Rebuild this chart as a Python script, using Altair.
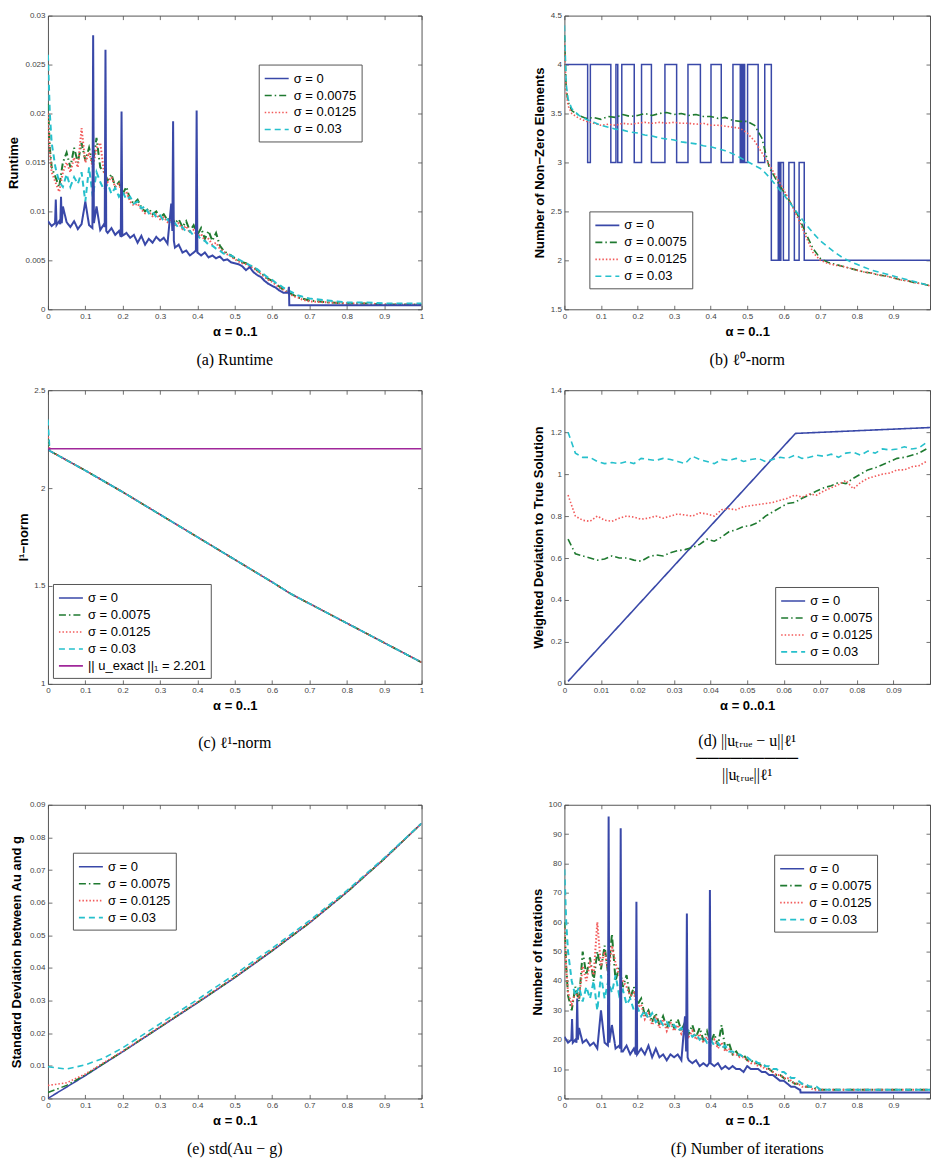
import altair as alt
import pandas as pd

# ---------------------------------------------------------------- series setup
SIGMAS = ["σ = 0", "σ = 0.0075", "σ = 0.0125", "σ = 0.03"]
SERIES_COLORS = ["#3948a8", "#1f7a30", "#f25a5a", "#26c0cc"]
SERIES_DASHES = [[1, 0], [7, 3, 1.5, 3], [1.5, 2], [6, 4]]
EXACT_L1 = 2.201
EXACT_LABEL = "|| u_exact ||₁ = 2.201"
EXACT_COLOR = "#a0279a"

# ---------------------------------------------------------------- tick labels
TICKS_UNIT = [0, 0.1, 0.2, 0.3, 0.4, 0.5, 0.6, 0.7, 0.8, 0.9, 1]
TICKS_TENTH = [0, 0.01, 0.02, 0.03, 0.04, 0.05, 0.06, 0.07, 0.08, 0.09, 0.1]
TICKS_RUNTIME = [0, 0.005, 0.01, 0.015, 0.02, 0.025, 0.03]
TICKS_NNZ = [1.5, 2, 2.5, 3, 3.5, 4, 4.5]
TICKS_L1 = [1, 1.5, 2, 2.5]
TICKS_DEV = [0, 0.2, 0.4, 0.6, 0.8, 1, 1.2, 1.4]
TICKS_STD = [0, 0.01, 0.02, 0.03, 0.04, 0.05, 0.06, 0.07, 0.08, 0.09]
TICKS_ITER = [0, 10, 20, 30, 40, 50, 60, 70, 80, 90, 100]

# ---------------------------------------------------------------- sampling grids
ALPHA_FINE = [0, 0.005] + [round(0.01 * i, 2) for i in range(1, 71)] + [0.75, 0.8, 0.85, 0.9, 0.95, 1.0]
ALPHA_COARSE = [0, 0.005, 0.01] + [round(0.02 * i, 2) for i in range(1, 51)]
ALPHA_DEV = [round(0.001 + 0.002 * i, 3) for i in range(50)]

# noise-free run, sampled around its outliers
ALPHA_SIG0 = [0, 0.01, 0.019, 0.021, 0.023, 0.03, 0.033, 0.035, 0.037, 0.04,
              0.05, 0.06, 0.07, 0.08, 0.09, 0.1, 0.11, 0.119, 0.121, 0.123,
              0.13, 0.14, 0.15, 0.152, 0.154, 0.156, 0.16, 0.17, 0.18, 0.19,
              0.195, 0.197, 0.199, 0.21, 0.22, 0.23, 0.24, 0.25, 0.26, 0.27,
              0.28, 0.29, 0.30, 0.31, 0.32, 0.33, 0.333, 0.335, 0.337, 0.34,
              0.35, 0.36, 0.37, 0.38, 0.39, 0.396, 0.398, 0.400, 0.41, 0.42,
              0.43, 0.44, 0.45, 0.46, 0.47, 0.48, 0.49, 0.50, 0.51, 0.52,
              0.53, 0.54, 0.55, 0.56, 0.57, 0.58, 0.59, 0.60, 0.61, 0.62,
              0.63, 0.643, 0.645, 0.646, 0.70, 0.80, 0.90, 1.00]

# ---------------------------------------------------------------- (a) runtime
RUNTIME_S0 = [0.0090, 0.0085, 0.0088, 0.0112, 0.0086, 0.0090, 0.0087, 0.0115, 0.0088, 0.0105,
              0.0089, 0.0084, 0.0090, 0.0082, 0.0087, 0.0110, 0.0086, 0.0083, 0.0280, 0.0088,
              0.0105, 0.0081, 0.0087, 0.0084, 0.0265, 0.0080, 0.0078, 0.0083, 0.0076, 0.0080,
              0.0074, 0.0202, 0.0075, 0.0078, 0.0073, 0.0076, 0.0068, 0.0075, 0.0066, 0.0072,
              0.0068, 0.0074, 0.0070, 0.0073, 0.0067, 0.0108, 0.0080, 0.0192, 0.0070, 0.0063,
              0.0066, 0.0058, 0.0060, 0.0055, 0.0058, 0.0060, 0.0203, 0.0058, 0.0055, 0.0058,
              0.0053, 0.0055, 0.0052, 0.0054, 0.0050, 0.0051, 0.0048, 0.0047, 0.0046, 0.0044,
              0.0040, 0.0043, 0.0038, 0.0035, 0.0033, 0.0029, 0.0026, 0.0024, 0.0022, 0.0019,
              0.0017, 0.0017, 0.0023, 0.0004, 0.0004, 0.0004, 0.0004, 0.0004]
RUNTIME_S1 = [0.0210, 0.0165, 0.0145, 0.0135, 0.0125, 0.0150, 0.0160, 0.0145, 0.0165, 0.0150,
              0.0170, 0.0152, 0.0165, 0.0148, 0.0175, 0.0145, 0.0140, 0.0132, 0.0138, 0.0125,
              0.0130, 0.0118, 0.0125, 0.0112, 0.0108, 0.0112, 0.0104, 0.0100, 0.0103, 0.0097,
              0.0100, 0.0094, 0.0097, 0.0091, 0.0095, 0.0088, 0.0092, 0.0084, 0.0090, 0.0080,
              0.0086, 0.0076, 0.0083, 0.0072, 0.0080, 0.0070, 0.0078, 0.0065, 0.0060, 0.0057,
              0.0055, 0.0052, 0.0050, 0.0048, 0.0047, 0.0045, 0.0043, 0.0040, 0.0037, 0.0034,
              0.0031, 0.0029, 0.0026, 0.0023, 0.0020, 0.0018, 0.0016, 0.0014, 0.0012, 0.0011,
              0.0010, 0.0009, 0.0007, 0.0006, 0.0006, 0.0005, 0.0005, 0.0005]
RUNTIME_S2 = [0.0200, 0.0160, 0.0140, 0.0130, 0.0120, 0.0140, 0.0150, 0.0140, 0.0155, 0.0145,
              0.0185, 0.0150, 0.0160, 0.0145, 0.0165, 0.0170, 0.0140, 0.0130, 0.0135, 0.0125,
              0.0128, 0.0117, 0.0120, 0.0110, 0.0106, 0.0108, 0.0102, 0.0098, 0.0100, 0.0095,
              0.0097, 0.0092, 0.0094, 0.0089, 0.0091, 0.0086, 0.0088, 0.0082, 0.0085, 0.0078,
              0.0081, 0.0074, 0.0077, 0.0070, 0.0072, 0.0066, 0.0068, 0.0062, 0.0059, 0.0056,
              0.0054, 0.0051, 0.0049, 0.0047, 0.0046, 0.0044, 0.0042, 0.0039, 0.0036, 0.0033,
              0.0030, 0.0028, 0.0025, 0.0022, 0.0020, 0.0017, 0.0015, 0.0013, 0.0012, 0.0010,
              0.0009, 0.0008, 0.0007, 0.0006, 0.0006, 0.0005, 0.0005, 0.0005]
RUNTIME_S3 = [0.0260, 0.0200, 0.0170, 0.0145, 0.0130, 0.0125, 0.0138, 0.0125, 0.0135, 0.0128,
              0.0140, 0.0110, 0.0145, 0.0115, 0.0140, 0.0130, 0.0122, 0.0128, 0.0118, 0.0124,
              0.0115, 0.0120, 0.0112, 0.0115, 0.0108, 0.0110, 0.0103, 0.0105, 0.0098, 0.0100,
              0.0094, 0.0096, 0.0090, 0.0092, 0.0087, 0.0088, 0.0083, 0.0084, 0.0079, 0.0080,
              0.0075, 0.0076, 0.0071, 0.0070, 0.0066, 0.0065, 0.0062, 0.0060, 0.0057, 0.0056,
              0.0055, 0.0053, 0.0051, 0.0049, 0.0047, 0.0045, 0.0043, 0.0041, 0.0038, 0.0035,
              0.0032, 0.0030, 0.0027, 0.0025, 0.0022, 0.0020, 0.0018, 0.0016, 0.0014, 0.0013,
              0.0012, 0.0011, 0.0009, 0.0007, 0.0007, 0.0006, 0.0006, 0.0006]

# ---------------------------------------------------------------- (b) number of non-zeros
STEP_ALPHA = [0, 0.0636, 0.071, 0.127, 0.141, 0.146, 0.157, 0.191, 0.211, 0.238,
              0.275, 0.307, 0.338, 0.372, 0.401, 0.429, 0.461, 0.481, 0.484, 0.487,
              0.490, 0.493, 0.501, 0.530, 0.548, 0.566, 0.585, 0.589, 0.592, 0.599,
              0.614, 0.629, 0.642, 0.656, 1.0]
STEP_NNZ = [4, 3, 4, 3, 4, 3, 4, 3, 4, 3,
            4, 3, 4, 3, 4, 3, 4, 3, 4, 3,
            4, 3, 4, 3, 4, 2, 3, 2, 3, 2,
            3, 2, 3, 2, 2]
NNZ_S1 = [4.30, 3.75, 3.62, 3.53, 3.48, 3.45, 3.46, 3.44, 3.47, 3.46,
          3.49, 3.47, 3.48, 3.50, 3.48, 3.50, 3.51, 3.49, 3.50, 3.48,
          3.49, 3.47, 3.47, 3.45, 3.46, 3.43, 3.42, 3.42, 3.38, 3.25,
          2.95, 2.82, 2.70, 2.58, 2.45, 2.28, 2.12, 2.02, 1.98, 1.96,
          1.94, 1.92, 1.90, 1.88, 1.87, 1.85, 1.84, 1.82, 1.80, 1.79,
          1.77, 1.76, 1.74]
NNZ_S2 = [4.25, 3.72, 3.58, 3.50, 3.45, 3.42, 3.40, 3.38, 3.39, 3.38,
          3.40, 3.39, 3.40, 3.41, 3.40, 3.41, 3.40, 3.41, 3.40, 3.40,
          3.39, 3.40, 3.38, 3.38, 3.37, 3.36, 3.35, 3.30, 3.22, 3.10,
          2.98, 2.85, 2.72, 2.58, 2.42, 2.25, 2.08, 2.00, 1.97, 1.95,
          1.94, 1.92, 1.90, 1.88, 1.87, 1.85, 1.84, 1.82, 1.80, 1.79,
          1.77, 1.76, 1.74]
NNZ_S3 = [4.40, 3.80, 3.65, 3.55, 3.48, 3.44, 3.41, 3.38, 3.36, 3.34,
          3.33, 3.31, 3.30, 3.28, 3.27, 3.25, 3.24, 3.23, 3.21, 3.20,
          3.19, 3.17, 3.16, 3.14, 3.12, 3.09, 3.05, 3.01, 2.97, 2.93,
          2.85, 2.76, 2.67, 2.57, 2.47, 2.37, 2.28, 2.20, 2.14, 2.08,
          2.03, 1.99, 1.96, 1.93, 1.90, 1.88, 1.86, 1.84, 1.82, 1.80,
          1.78, 1.76, 1.74]

# ---------------------------------------------------------------- (c) l1-norm
L1_ALPHA = [0, 0.005, 0.1, 0.2, 0.3, 0.4, 0.5, 0.6, 0.65, 0.7, 0.8, 0.9, 1.0]
L1_S0 = [2.20, 2.19, 2.09, 1.98, 1.865, 1.75, 1.635, 1.52, 1.46, 1.41, 1.31, 1.21, 1.11]
L1_S1 = [2.25, 2.19, 2.09, 1.98, 1.865, 1.75, 1.635, 1.52, 1.46, 1.41, 1.31, 1.21, 1.11]
L1_S2 = [2.28, 2.19, 2.09, 1.98, 1.865, 1.75, 1.635, 1.52, 1.46, 1.41, 1.31, 1.21, 1.11]
L1_S3 = [2.35, 2.19, 2.09, 1.98, 1.865, 1.75, 1.635, 1.52, 1.46, 1.41, 1.31, 1.21, 1.11]
EXACT_ALPHA = [0, 1]

# ---------------------------------------------------------------- (d) weighted deviation
DEV_S0_ALPHA = [0.001, 0.0632, 0.1]
DEV_S0 = [0.012, 1.194, 1.222]
DEV_S1 = [0.69, 0.62, 0.61, 0.60, 0.59, 0.595, 0.61, 0.60, 0.60, 0.59,
          0.585, 0.605, 0.615, 0.61, 0.625, 0.635, 0.64, 0.65, 0.665, 0.69,
          0.68, 0.70, 0.725, 0.735, 0.75, 0.755, 0.77, 0.80, 0.82, 0.84,
          0.86, 0.865, 0.885, 0.90, 0.92, 0.935, 0.945, 0.96, 0.955, 0.98,
          1.00, 1.02, 1.03, 1.045, 1.06, 1.075, 1.08, 1.09, 1.10, 1.12]
DEV_S2 = [0.90, 0.80, 0.78, 0.775, 0.80, 0.78, 0.775, 0.79, 0.80, 0.795,
          0.785, 0.79, 0.80, 0.79, 0.80, 0.81, 0.805, 0.80, 0.815, 0.81,
          0.80, 0.83, 0.835, 0.83, 0.845, 0.85, 0.855, 0.86, 0.865, 0.875,
          0.885, 0.90, 0.89, 0.905, 0.90, 0.92, 0.935, 0.95, 0.97, 0.93,
          0.96, 0.98, 0.99, 1.00, 1.005, 1.02, 1.02, 1.035, 1.04, 1.06]
DEV_S3 = [1.20, 1.10, 1.08, 1.08, 1.06, 1.05, 1.055, 1.05, 1.06, 1.05,
          1.075, 1.07, 1.065, 1.075, 1.07, 1.06, 1.05, 1.085, 1.07, 1.06,
          1.05, 1.07, 1.065, 1.075, 1.06, 1.07, 1.075, 1.06, 1.07, 1.08,
          1.075, 1.09, 1.075, 1.08, 1.09, 1.085, 1.095, 1.08, 1.10, 1.105,
          1.09, 1.11, 1.10, 1.12, 1.115, 1.12, 1.13, 1.12, 1.125, 1.15]

# ---------------------------------------------------------------- (e) std(Au - g)
STD_ALPHA = [0, 0.05, 0.1, 0.15, 0.2, 0.3, 0.4, 0.5, 0.6, 0.7, 0.8, 0.9, 1.0]
STD_S0 = [0.0000, 0.0035, 0.0070, 0.0107, 0.0143, 0.0218, 0.0293, 0.0370, 0.0452, 0.0538, 0.0632, 0.0734, 0.0843]
STD_S1 = [0.0018, 0.0040, 0.0072, 0.0108, 0.0144, 0.0219, 0.0294, 0.0371, 0.0453, 0.0538, 0.0632, 0.0734, 0.0843]
STD_S2 = [0.0040, 0.0048, 0.0075, 0.0110, 0.0145, 0.0220, 0.0295, 0.0372, 0.0454, 0.0539, 0.0633, 0.0734, 0.0843]
STD_S3 = [0.0097, 0.0090, 0.0103, 0.0124, 0.0155, 0.0229, 0.0303, 0.0380, 0.0460, 0.0545, 0.0637, 0.0737, 0.0843]

# ---------------------------------------------------------------- (f) iterations
ITERS_S0 = [21, 19, 20, 27, 19, 20, 19, 34, 20, 24,
            19, 20, 18, 19, 17, 30, 19, 18, 96, 19,
            25, 17, 18, 17, 92, 16, 16, 18, 15, 17,
            15, 67, 15, 17, 15, 18, 14, 17, 14, 15,
            13, 15, 14, 15, 13, 28, 16, 63, 14, 13,
            12, 13, 11, 12, 11, 12, 71, 12, 11, 12,
            10, 11, 10, 11, 10, 10, 9, 11, 10, 10,
            10, 9, 9, 8, 8, 7, 6, 6, 5, 4,
            4, 3, 3, 2, 2, 2, 2, 2]
ITERS_S1 = [60, 45, 35, 30, 38, 33, 50, 42, 48, 40,
            50, 44, 52, 42, 56, 40, 45, 38, 42, 34,
            38, 32, 34, 28, 30, 26, 29, 25, 28, 24,
            27, 24, 27, 23, 26, 22, 25, 21, 24, 20,
            23, 19, 22, 18, 25, 17, 19, 15, 16, 14,
            15, 13, 13, 12, 12, 11, 11, 10, 9, 8,
            8, 7, 6, 6, 5, 5, 5, 4, 4, 4,
            3, 3, 3, 3, 3, 3, 3, 3]
ITERS_S2 = [58, 44, 36, 32, 36, 34, 45, 40, 46, 42,
            60, 45, 50, 43, 52, 46, 42, 40, 38, 35,
            36, 31, 32, 27, 29, 25, 28, 24, 27, 23,
            26, 23, 25, 22, 24, 21, 23, 20, 22, 19,
            21, 18, 20, 17, 19, 16, 17, 15, 15, 14,
            14, 13, 12, 12, 11, 11, 10, 10, 9, 8,
            8, 7, 7, 6, 5, 5, 4, 4, 4, 3,
            3, 3, 3, 3, 3, 3, 3, 3]
ITERS_S3 = [78, 60, 50, 40, 35, 38, 33, 38, 34, 40,
            30, 42, 34, 40, 36, 42, 35, 37, 32, 34,
            30, 31, 28, 30, 27, 29, 26, 27, 25, 26,
            24, 25, 23, 24, 22, 23, 21, 22, 20, 21,
            19, 20, 18, 19, 17, 18, 16, 16, 15, 15,
            14, 14, 13, 13, 12, 12, 11, 11, 10, 10,
            9, 9, 8, 7, 7, 6, 5, 5, 4, 4,
            4, 3, 3, 3, 3, 3, 3, 3]

AXIS_FONT = "Liberation Sans"
CAPTION_FONT = "Liberation Serif"
TICK_COLOR = "#4d4d4d"


def long_table(parts):
    rows = []
    for name, xs, ys in parts:
        assert len(xs) == len(ys), (name, len(xs), len(ys))
        rows += [{"alpha": x, "value": y, "series": name} for x, y in zip(xs, ys)]
    return pd.DataFrame(rows)


def make_panel(parts, *, xdom, ydom, xticks, yticks, xtitle, ytitle, ytitle_pad,
               caption, caption_offset, legend_xy, width, height, step_part=None,
               label_cut=None, yformat="~g", line_width=1.6,
               names=SIGMAS, colors=SERIES_COLORS, dashes=SERIES_DASHES):
    xscale = alt.Scale(domain=xdom, nice=False, zero=False)
    yscale = alt.Scale(domain=ydom, nice=False, zero=False)
    legend = alt.Legend(
        orient="none", legendX=legend_xy[0], legendY=legend_xy[1], title=None,
        symbolType="M-1.5,0H1.5", symbolSize=256, symbolStrokeWidth=1.6,
        symbolOffset=4, labelOffset=8, labelFont=AXIS_FONT, labelFontSize=13,
        labelColor="black", labelLimit=300, rowPadding=1, padding=5,
        strokeColor="#555555", fillColor="white", cornerRadius=0,
    )
    color = alt.Color("series:N", scale=alt.Scale(domain=names, range=colors), legend=legend)
    dash = alt.StrokeDash("series:N", scale=alt.Scale(domain=names, range=dashes), legend=legend)

    tick_style = dict(offset=-4, tickSize=4, tickColor=TICK_COLOR, tickWidth=0.8,
                      domain=False, grid=False)
    label_style = dict(labelFont=AXIS_FONT, labelFontSize=8, labelColor="#444444",
                       labelPadding=3)
    title_style = dict(titleFont=AXIS_FONT, titleFontSize=13, titleFontWeight="bold",
                       titleColor="black")
    extra = {}
    if label_cut is not None:
        extra["labelExpr"] = f"datum.value >= {label_cut} ? '' : datum.label"
    x_axis = alt.Axis(orient="bottom", values=xticks, format="~g", labelFlush=False,
                      title=xtitle, titlePadding=5, minExtent=15, maxExtent=15,
                      **tick_style, **label_style, **title_style, **extra)
    y_axis = alt.Axis(orient="left", values=yticks, format=yformat, title=ytitle,
                      titlePadding=ytitle_pad, minExtent=20, maxExtent=20,
                      **tick_style, **label_style, **title_style)
    top_axis = alt.Axis(orient="top", values=xticks, labels=False, title=None, **tick_style)
    right_axis = alt.Axis(orient="right", values=yticks, labels=False, title=None, **tick_style)

    df = long_table(parts)
    layers = []
    if step_part is not None:
        layers.append(
            alt.Chart(long_table([step_part]))
            .mark_line(interpolate="step-after", strokeWidth=1.5, clip=True)
            .encode(x=alt.X("alpha:Q", scale=xscale, axis=None),
                    y=alt.Y("value:Q", scale=yscale, axis=None),
                    color=color, strokeDash=dash)
        )
    layers.append(
        alt.Chart(df)
        .mark_line(strokeWidth=line_width, clip=True)
        .encode(x=alt.X("alpha:Q", scale=xscale, axis=x_axis),
                y=alt.Y("value:Q", scale=yscale, axis=y_axis),
                color=color, strokeDash=dash)
    )
    # box ticks on the top and right edges
    layers.append(
        alt.Chart(df).mark_point(opacity=0)
        .encode(x=alt.X("alpha:Q", scale=xscale, axis=top_axis),
                y=alt.Y("value:Q", scale=yscale, axis=right_axis))
    )
    return (
        alt.layer(*layers)
        .resolve_axis(x="independent", y="independent")
        .properties(
            width=width, height=height,
            title=alt.TitleParams(caption, orient="bottom", anchor="middle", frame="group",
                                  font=CAPTION_FONT, fontSize=16, fontWeight="normal",
                                  color="black", offset=caption_offset, lineHeight=17),
        )
    )


LEFT_W, RIGHT_W, PANEL_H = 374, 366, 294
FRACTION_INDENT = "\u00a0" * 6

panel_a = make_panel(
    [(SIGMAS[1], ALPHA_FINE, RUNTIME_S1), (SIGMAS[2], ALPHA_FINE, RUNTIME_S2),
     (SIGMAS[3], ALPHA_FINE, RUNTIME_S3), (SIGMAS[0], ALPHA_SIG0, RUNTIME_S0)],
    xdom=[0, 1], ydom=[0, 0.03], xticks=TICKS_UNIT, yticks=TICKS_RUNTIME,
    xtitle="α = 0..1", ytitle="Runtime", ytitle_pad=11,
    caption="(a) Runtime", caption_offset=14, legend_xy=(211, 49),
    width=LEFT_W, height=PANEL_H, line_width=2.0)

panel_b = make_panel(
    [(SIGMAS[1], ALPHA_COARSE, NNZ_S1), (SIGMAS[2], ALPHA_COARSE, NNZ_S2),
     (SIGMAS[3], ALPHA_COARSE, NNZ_S3)],
    step_part=(SIGMAS[0], STEP_ALPHA, STEP_NNZ),
    xdom=[0, 1], ydom=[1.5, 4.5], xticks=TICKS_UNIT, yticks=TICKS_NNZ,
    xtitle="α = 0..1", ytitle="Number of Non−Zero Elements", ytitle_pad=1.5,
    caption="(b) ℓ⁰-norm", caption_offset=14, legend_xy=(25, 196),
    width=RIGHT_W, height=PANEL_H, label_cut=0.999)

panel_c = make_panel(
    [(SIGMAS[0], L1_ALPHA, L1_S0), (SIGMAS[1], L1_ALPHA, L1_S1),
     (SIGMAS[2], L1_ALPHA, L1_S2), (SIGMAS[3], L1_ALPHA, L1_S3),
     (EXACT_LABEL, EXACT_ALPHA, [EXACT_L1, EXACT_L1])],
    xdom=[0, 1], ydom=[1, 2.5], xticks=TICKS_UNIT, yticks=TICKS_L1,
    xtitle="α = 0..1", ytitle="l¹−norm", ytitle_pad=1.5,
    caption="(c) ℓ¹-norm", caption_offset=22, legend_xy=(5, 194),
    width=LEFT_W, height=PANEL_H,
    names=SIGMAS + [EXACT_LABEL], colors=SERIES_COLORS + [EXACT_COLOR],
    dashes=SERIES_DASHES + [[1, 0]])

panel_d = make_panel(
    [(SIGMAS[0], DEV_S0_ALPHA, DEV_S0), (SIGMAS[1], ALPHA_DEV, DEV_S1),
     (SIGMAS[2], ALPHA_DEV, DEV_S2), (SIGMAS[3], ALPHA_DEV, DEV_S3)],
    xdom=[0, 0.1], ydom=[0, 1.4], xticks=TICKS_TENTH, yticks=TICKS_DEV,
    xtitle="α = 0..0.1", ytitle="Weighted Deviation to True Solution", ytitle_pad=3,
    caption=["(d) ||uₜᵣᵤₑ − u||ℓ¹",
             FRACTION_INDENT + "─" * 9,
             FRACTION_INDENT + "||uₜᵣᵤₑ||ℓ¹"],
    caption_offset=20, legend_xy=(211, 197), width=RIGHT_W, height=PANEL_H,
    label_cut=0.0999)

panel_e = make_panel(
    [(SIGMAS[0], STD_ALPHA, STD_S0), (SIGMAS[1], STD_ALPHA, STD_S1),
     (SIGMAS[2], STD_ALPHA, STD_S2), (SIGMAS[3], STD_ALPHA, STD_S3)],
    xdom=[0, 1], ydom=[0, 0.09], xticks=TICKS_UNIT, yticks=TICKS_STD,
    xtitle="α = 0..1", ytitle="Standard Deviation between Au and g", ytitle_pad=8,
    caption="(e) std(Au − g)", caption_offset=14, legend_xy=(25, 48),
    width=LEFT_W, height=PANEL_H)

panel_f = make_panel(
    [(SIGMAS[1], ALPHA_FINE, ITERS_S1), (SIGMAS[2], ALPHA_FINE, ITERS_S2),
     (SIGMAS[3], ALPHA_FINE, ITERS_S3), (SIGMAS[0], ALPHA_SIG0, ITERS_S0)],
    xdom=[0, 1], ydom=[0, 100], xticks=TICKS_UNIT, yticks=TICKS_ITER, yformat="d",
    xtitle="α = 0..1", ytitle="Number of Iterations", ytitle_pad=3.5,
    caption="(f) Number of iterations", caption_offset=14, legend_xy=(210, 50),
    width=RIGHT_W, height=PANEL_H, label_cut=0.999, line_width=2.0)

chart = (
    alt.concat(panel_a, panel_b, panel_c, panel_d, panel_e, panel_f,
               columns=2, spacing={"row": 16, "column": 106}, align="each", bounds="full")
    .resolve_scale(color="independent", strokeDash="independent")
    .properties(padding={"left": 7, "top": 10, "right": 0, "bottom": 0}, background="white")
    .configure_view(stroke="#555555", strokeWidth=1)
)

chart.save("out.html", embed_options={"renderer": "svg", "actions": False})
